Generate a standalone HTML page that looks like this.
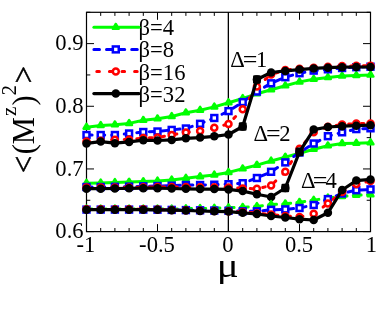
<!DOCTYPE html>
<html><head><meta charset="utf-8"><title>chart</title>
<style>
html,body{margin:0;padding:0;background:#fff;}
body{width:382px;height:319px;overflow:hidden;}
svg{display:block;will-change:transform;}
text{font-family:"Liberation Serif",serif;fill:#000;}
</style></head><body>
<svg width="382" height="319" viewBox="0 0 382 319">
<rect width="382" height="319" fill="#fff"/>
<defs><clipPath id="cp"><rect x="81.5" y="12.3" width="294.0" height="219.29999999999998"/></clipPath></defs>
<text x="138.6" y="34.5" font-size="22.6">β=4</text>
<text x="138.6" y="57.3" font-size="22.6">β=8</text>
<text x="138.6" y="79.8" font-size="22.6">β=16</text>
<text x="138.6" y="101.9" font-size="22.6">β=32</text>
<rect x="86.5" y="12.3" width="284.0" height="219.29999999999998" fill="none" stroke="#000" stroke-width="1.2"/>
<line x1="228.35" y1="12.3" x2="228.35" y2="231.6" stroke="#000" stroke-width="1.3"/>
<line x1="86.5" y1="231.6" x2="86.5" y2="224.1" stroke="#000" stroke-width="1"/>
<line x1="86.5" y1="12.3" x2="86.5" y2="19.8" stroke="#000" stroke-width="1"/>
<line x1="100.7" y1="231.6" x2="100.7" y2="228.0" stroke="#000" stroke-width="1"/>
<line x1="100.7" y1="12.3" x2="100.7" y2="15.9" stroke="#000" stroke-width="1"/>
<line x1="114.9" y1="231.6" x2="114.9" y2="228.0" stroke="#000" stroke-width="1"/>
<line x1="114.9" y1="12.3" x2="114.9" y2="15.9" stroke="#000" stroke-width="1"/>
<line x1="129.1" y1="231.6" x2="129.1" y2="228.0" stroke="#000" stroke-width="1"/>
<line x1="129.1" y1="12.3" x2="129.1" y2="15.9" stroke="#000" stroke-width="1"/>
<line x1="143.3" y1="231.6" x2="143.3" y2="228.0" stroke="#000" stroke-width="1"/>
<line x1="143.3" y1="12.3" x2="143.3" y2="15.9" stroke="#000" stroke-width="1"/>
<line x1="157.5" y1="231.6" x2="157.5" y2="224.1" stroke="#000" stroke-width="1"/>
<line x1="157.5" y1="12.3" x2="157.5" y2="19.8" stroke="#000" stroke-width="1"/>
<line x1="171.7" y1="231.6" x2="171.7" y2="228.0" stroke="#000" stroke-width="1"/>
<line x1="171.7" y1="12.3" x2="171.7" y2="15.9" stroke="#000" stroke-width="1"/>
<line x1="185.89999999999998" y1="231.6" x2="185.89999999999998" y2="228.0" stroke="#000" stroke-width="1"/>
<line x1="185.89999999999998" y1="12.3" x2="185.89999999999998" y2="15.9" stroke="#000" stroke-width="1"/>
<line x1="200.1" y1="231.6" x2="200.1" y2="228.0" stroke="#000" stroke-width="1"/>
<line x1="200.1" y1="12.3" x2="200.1" y2="15.9" stroke="#000" stroke-width="1"/>
<line x1="214.3" y1="231.6" x2="214.3" y2="228.0" stroke="#000" stroke-width="1"/>
<line x1="214.3" y1="12.3" x2="214.3" y2="15.9" stroke="#000" stroke-width="1"/>
<line x1="228.5" y1="231.6" x2="228.5" y2="224.1" stroke="#000" stroke-width="1"/>
<line x1="228.5" y1="12.3" x2="228.5" y2="19.8" stroke="#000" stroke-width="1"/>
<line x1="242.7" y1="231.6" x2="242.7" y2="228.0" stroke="#000" stroke-width="1"/>
<line x1="242.7" y1="12.3" x2="242.7" y2="15.9" stroke="#000" stroke-width="1"/>
<line x1="256.9" y1="231.6" x2="256.9" y2="228.0" stroke="#000" stroke-width="1"/>
<line x1="256.9" y1="12.3" x2="256.9" y2="15.9" stroke="#000" stroke-width="1"/>
<line x1="271.1" y1="231.6" x2="271.1" y2="228.0" stroke="#000" stroke-width="1"/>
<line x1="271.1" y1="12.3" x2="271.1" y2="15.9" stroke="#000" stroke-width="1"/>
<line x1="285.29999999999995" y1="231.6" x2="285.29999999999995" y2="228.0" stroke="#000" stroke-width="1"/>
<line x1="285.29999999999995" y1="12.3" x2="285.29999999999995" y2="15.9" stroke="#000" stroke-width="1"/>
<line x1="299.5" y1="231.6" x2="299.5" y2="224.1" stroke="#000" stroke-width="1"/>
<line x1="299.5" y1="12.3" x2="299.5" y2="19.8" stroke="#000" stroke-width="1"/>
<line x1="313.7" y1="231.6" x2="313.7" y2="228.0" stroke="#000" stroke-width="1"/>
<line x1="313.7" y1="12.3" x2="313.7" y2="15.9" stroke="#000" stroke-width="1"/>
<line x1="327.9" y1="231.6" x2="327.9" y2="228.0" stroke="#000" stroke-width="1"/>
<line x1="327.9" y1="12.3" x2="327.9" y2="15.9" stroke="#000" stroke-width="1"/>
<line x1="342.1" y1="231.6" x2="342.1" y2="228.0" stroke="#000" stroke-width="1"/>
<line x1="342.1" y1="12.3" x2="342.1" y2="15.9" stroke="#000" stroke-width="1"/>
<line x1="356.3" y1="231.6" x2="356.3" y2="228.0" stroke="#000" stroke-width="1"/>
<line x1="356.3" y1="12.3" x2="356.3" y2="15.9" stroke="#000" stroke-width="1"/>
<line x1="370.5" y1="231.6" x2="370.5" y2="224.1" stroke="#000" stroke-width="1"/>
<line x1="370.5" y1="12.3" x2="370.5" y2="19.8" stroke="#000" stroke-width="1"/>
<line x1="86.5" y1="231.60" x2="94.0" y2="231.60" stroke="#000" stroke-width="1"/>
<line x1="370.5" y1="231.60" x2="363.0" y2="231.60" stroke="#000" stroke-width="1"/>
<line x1="86.5" y1="200.27" x2="90.3" y2="200.27" stroke="#000" stroke-width="1"/>
<line x1="370.5" y1="200.27" x2="366.7" y2="200.27" stroke="#000" stroke-width="1"/>
<line x1="86.5" y1="168.94" x2="94.0" y2="168.94" stroke="#000" stroke-width="1"/>
<line x1="370.5" y1="168.94" x2="363.0" y2="168.94" stroke="#000" stroke-width="1"/>
<line x1="86.5" y1="137.61" x2="90.3" y2="137.61" stroke="#000" stroke-width="1"/>
<line x1="370.5" y1="137.61" x2="366.7" y2="137.61" stroke="#000" stroke-width="1"/>
<line x1="86.5" y1="106.28" x2="94.0" y2="106.28" stroke="#000" stroke-width="1"/>
<line x1="370.5" y1="106.28" x2="363.0" y2="106.28" stroke="#000" stroke-width="1"/>
<line x1="86.5" y1="74.95" x2="90.3" y2="74.95" stroke="#000" stroke-width="1"/>
<line x1="370.5" y1="74.95" x2="366.7" y2="74.95" stroke="#000" stroke-width="1"/>
<line x1="86.5" y1="43.62" x2="94.0" y2="43.62" stroke="#000" stroke-width="1"/>
<line x1="370.5" y1="43.62" x2="363.0" y2="43.62" stroke="#000" stroke-width="1"/>
<line x1="86.5" y1="12.29" x2="90.3" y2="12.29" stroke="#000" stroke-width="1"/>
<line x1="370.5" y1="12.29" x2="366.7" y2="12.29" stroke="#000" stroke-width="1"/>
<g><polyline points="86.50,127.20 100.70,125.50 114.90,124.80 129.10,123.40 143.30,120.30 157.50,118.80 171.70,116.50 185.90,112.80 200.10,110.20 214.30,106.90 228.50,102.70 242.70,98.50 256.90,93.80 271.10,89.70 285.30,85.80 299.50,81.90 313.70,79.20 327.90,77.40 342.10,76.00 356.30,75.40 370.50,75.00" fill="none" stroke="#00ff00" stroke-width="3.0" stroke-linecap="round" stroke-linejoin="round"/>
<path d="M83.60,128.75 L89.40,128.75 L86.50,123.85 Z" fill="#00ff00" stroke="#00ff00" stroke-width="2.5" stroke-linejoin="round"/>
<path d="M97.80,127.05 L103.60,127.05 L100.70,122.15 Z" fill="#00ff00" stroke="#00ff00" stroke-width="2.5" stroke-linejoin="round"/>
<path d="M112.00,126.35 L117.80,126.35 L114.90,121.45 Z" fill="#00ff00" stroke="#00ff00" stroke-width="2.5" stroke-linejoin="round"/>
<path d="M126.20,124.95 L132.00,124.95 L129.10,120.05 Z" fill="#00ff00" stroke="#00ff00" stroke-width="2.5" stroke-linejoin="round"/>
<path d="M140.40,121.85 L146.20,121.85 L143.30,116.95 Z" fill="#00ff00" stroke="#00ff00" stroke-width="2.5" stroke-linejoin="round"/>
<path d="M154.60,120.35 L160.40,120.35 L157.50,115.45 Z" fill="#00ff00" stroke="#00ff00" stroke-width="2.5" stroke-linejoin="round"/>
<path d="M168.80,118.05 L174.60,118.05 L171.70,113.15 Z" fill="#00ff00" stroke="#00ff00" stroke-width="2.5" stroke-linejoin="round"/>
<path d="M183.00,114.35 L188.80,114.35 L185.90,109.45 Z" fill="#00ff00" stroke="#00ff00" stroke-width="2.5" stroke-linejoin="round"/>
<path d="M197.20,111.75 L203.00,111.75 L200.10,106.85 Z" fill="#00ff00" stroke="#00ff00" stroke-width="2.5" stroke-linejoin="round"/>
<path d="M211.40,108.45 L217.20,108.45 L214.30,103.55 Z" fill="#00ff00" stroke="#00ff00" stroke-width="2.5" stroke-linejoin="round"/>
<path d="M225.60,104.25 L231.40,104.25 L228.50,99.35 Z" fill="#00ff00" stroke="#00ff00" stroke-width="2.5" stroke-linejoin="round"/>
<path d="M239.80,100.05 L245.60,100.05 L242.70,95.15 Z" fill="#00ff00" stroke="#00ff00" stroke-width="2.5" stroke-linejoin="round"/>
<path d="M254.00,95.35 L259.80,95.35 L256.90,90.45 Z" fill="#00ff00" stroke="#00ff00" stroke-width="2.5" stroke-linejoin="round"/>
<path d="M268.20,91.25 L274.00,91.25 L271.10,86.35 Z" fill="#00ff00" stroke="#00ff00" stroke-width="2.5" stroke-linejoin="round"/>
<path d="M282.40,87.35 L288.20,87.35 L285.30,82.45 Z" fill="#00ff00" stroke="#00ff00" stroke-width="2.5" stroke-linejoin="round"/>
<path d="M296.60,83.45 L302.40,83.45 L299.50,78.55 Z" fill="#00ff00" stroke="#00ff00" stroke-width="2.5" stroke-linejoin="round"/>
<path d="M310.80,80.75 L316.60,80.75 L313.70,75.85 Z" fill="#00ff00" stroke="#00ff00" stroke-width="2.5" stroke-linejoin="round"/>
<path d="M325.00,78.95 L330.80,78.95 L327.90,74.05 Z" fill="#00ff00" stroke="#00ff00" stroke-width="2.5" stroke-linejoin="round"/>
<path d="M339.20,77.55 L345.00,77.55 L342.10,72.65 Z" fill="#00ff00" stroke="#00ff00" stroke-width="2.5" stroke-linejoin="round"/>
<path d="M353.40,76.95 L359.20,76.95 L356.30,72.05 Z" fill="#00ff00" stroke="#00ff00" stroke-width="2.5" stroke-linejoin="round"/>
<path d="M367.60,76.55 L373.40,76.55 L370.50,71.65 Z" fill="#00ff00" stroke="#00ff00" stroke-width="2.5" stroke-linejoin="round"/>
<polyline points="86.50,135.00 100.70,135.00 114.90,135.00 129.10,133.50 143.30,132.00 157.50,131.50 171.70,129.90 185.90,128.50 200.10,123.80 214.30,118.00 228.50,111.10 242.70,102.10 256.90,91.50 271.10,83.30 285.30,77.20 299.50,73.20 313.70,70.60 327.90,69.30 342.10,68.00 356.30,67.20 370.50,66.70" fill="none" stroke="#0000ff" stroke-width="3.0" stroke-linecap="round" stroke-linejoin="round" stroke-dasharray="5.6 7.0"/>
<rect x="83.55" y="132.05" width="5.9" height="5.9" fill="#fff" stroke="#0000ff" stroke-width="2.5"/>
<rect x="97.75" y="132.05" width="5.9" height="5.9" fill="#fff" stroke="#0000ff" stroke-width="2.5"/>
<rect x="111.95" y="132.05" width="5.9" height="5.9" fill="#fff" stroke="#0000ff" stroke-width="2.5"/>
<rect x="126.15" y="130.55" width="5.9" height="5.9" fill="#fff" stroke="#0000ff" stroke-width="2.5"/>
<rect x="140.35" y="129.05" width="5.9" height="5.9" fill="#fff" stroke="#0000ff" stroke-width="2.5"/>
<rect x="154.55" y="128.55" width="5.9" height="5.9" fill="#fff" stroke="#0000ff" stroke-width="2.5"/>
<rect x="168.75" y="126.95" width="5.9" height="5.9" fill="#fff" stroke="#0000ff" stroke-width="2.5"/>
<rect x="182.95" y="125.55" width="5.9" height="5.9" fill="#fff" stroke="#0000ff" stroke-width="2.5"/>
<rect x="197.15" y="120.85" width="5.9" height="5.9" fill="#fff" stroke="#0000ff" stroke-width="2.5"/>
<rect x="211.35" y="115.05" width="5.9" height="5.9" fill="#fff" stroke="#0000ff" stroke-width="2.5"/>
<rect x="225.55" y="108.15" width="5.9" height="5.9" fill="#fff" stroke="#0000ff" stroke-width="2.5"/>
<rect x="239.75" y="99.15" width="5.9" height="5.9" fill="#fff" stroke="#0000ff" stroke-width="2.5"/>
<rect x="253.95" y="88.55" width="5.9" height="5.9" fill="#fff" stroke="#0000ff" stroke-width="2.5"/>
<rect x="268.15" y="80.35" width="5.9" height="5.9" fill="#fff" stroke="#0000ff" stroke-width="2.5"/>
<rect x="282.35" y="74.25" width="5.9" height="5.9" fill="#fff" stroke="#0000ff" stroke-width="2.5"/>
<rect x="296.55" y="70.25" width="5.9" height="5.9" fill="#fff" stroke="#0000ff" stroke-width="2.5"/>
<rect x="310.75" y="67.65" width="5.9" height="5.9" fill="#fff" stroke="#0000ff" stroke-width="2.5"/>
<rect x="324.95" y="66.35" width="5.9" height="5.9" fill="#fff" stroke="#0000ff" stroke-width="2.5"/>
<rect x="339.15" y="65.05" width="5.9" height="5.9" fill="#fff" stroke="#0000ff" stroke-width="2.5"/>
<rect x="353.35" y="64.25" width="5.9" height="5.9" fill="#fff" stroke="#0000ff" stroke-width="2.5"/>
<rect x="367.55" y="63.75" width="5.9" height="5.9" fill="#fff" stroke="#0000ff" stroke-width="2.5"/>
<polyline points="86.50,141.50 100.70,140.80 114.90,139.70 129.10,139.50 143.30,138.00 157.50,137.50 171.70,135.00 185.90,132.40 200.10,130.90 214.30,127.80 228.50,123.90 242.70,109.20 256.90,86.50 271.10,74.50 285.30,70.00 299.50,68.70 313.70,67.80 327.90,66.70 342.10,66.00 356.30,65.80 370.50,65.80" fill="none" stroke="#ff0000" stroke-width="3.0" stroke-linecap="round" stroke-linejoin="round" stroke-dasharray="2.6 10.0"/>
<circle cx="86.50" cy="141.50" r="3.0" fill="#fff" stroke="#ff0000" stroke-width="2.5"/>
<circle cx="100.70" cy="140.80" r="3.0" fill="#fff" stroke="#ff0000" stroke-width="2.5"/>
<circle cx="114.90" cy="139.70" r="3.0" fill="#fff" stroke="#ff0000" stroke-width="2.5"/>
<circle cx="129.10" cy="139.50" r="3.0" fill="#fff" stroke="#ff0000" stroke-width="2.5"/>
<circle cx="143.30" cy="138.00" r="3.0" fill="#fff" stroke="#ff0000" stroke-width="2.5"/>
<circle cx="157.50" cy="137.50" r="3.0" fill="#fff" stroke="#ff0000" stroke-width="2.5"/>
<circle cx="171.70" cy="135.00" r="3.0" fill="#fff" stroke="#ff0000" stroke-width="2.5"/>
<circle cx="185.90" cy="132.40" r="3.0" fill="#fff" stroke="#ff0000" stroke-width="2.5"/>
<circle cx="200.10" cy="130.90" r="3.0" fill="#fff" stroke="#ff0000" stroke-width="2.5"/>
<circle cx="214.30" cy="127.80" r="3.0" fill="#fff" stroke="#ff0000" stroke-width="2.5"/>
<circle cx="228.50" cy="123.90" r="3.0" fill="#fff" stroke="#ff0000" stroke-width="2.5"/>
<circle cx="242.70" cy="109.20" r="3.0" fill="#fff" stroke="#ff0000" stroke-width="2.5"/>
<circle cx="256.90" cy="86.50" r="3.0" fill="#fff" stroke="#ff0000" stroke-width="2.5"/>
<circle cx="271.10" cy="74.50" r="3.0" fill="#fff" stroke="#ff0000" stroke-width="2.5"/>
<circle cx="285.30" cy="70.00" r="3.0" fill="#fff" stroke="#ff0000" stroke-width="2.5"/>
<circle cx="299.50" cy="68.70" r="3.0" fill="#fff" stroke="#ff0000" stroke-width="2.5"/>
<circle cx="313.70" cy="67.80" r="3.0" fill="#fff" stroke="#ff0000" stroke-width="2.5"/>
<circle cx="327.90" cy="66.70" r="3.0" fill="#fff" stroke="#ff0000" stroke-width="2.5"/>
<circle cx="342.10" cy="66.00" r="3.0" fill="#fff" stroke="#ff0000" stroke-width="2.5"/>
<circle cx="356.30" cy="65.80" r="3.0" fill="#fff" stroke="#ff0000" stroke-width="2.5"/>
<circle cx="370.50" cy="65.80" r="3.0" fill="#fff" stroke="#ff0000" stroke-width="2.5"/>
<polyline points="86.50,143.40 100.70,141.60 114.90,143.20 129.10,141.90 143.30,140.20 157.50,140.50 171.70,139.90 185.90,138.30 200.10,137.60 214.30,136.30 228.50,134.50 242.70,126.50 256.90,79.50 271.10,72.50 285.30,70.90 299.50,69.60 313.70,68.40 327.90,67.70 342.10,67.20 356.30,67.00 370.50,67.00" fill="none" stroke="#000000" stroke-width="3.2" stroke-linecap="round" stroke-linejoin="round"/>
<circle cx="86.50" cy="143.40" r="4.25" fill="#000000"/>
<circle cx="100.70" cy="141.60" r="4.25" fill="#000000"/>
<circle cx="114.90" cy="143.20" r="4.25" fill="#000000"/>
<circle cx="129.10" cy="141.90" r="4.25" fill="#000000"/>
<circle cx="143.30" cy="140.20" r="4.25" fill="#000000"/>
<circle cx="157.50" cy="140.50" r="4.25" fill="#000000"/>
<circle cx="171.70" cy="139.90" r="4.25" fill="#000000"/>
<circle cx="185.90" cy="138.30" r="4.25" fill="#000000"/>
<circle cx="200.10" cy="137.60" r="4.25" fill="#000000"/>
<circle cx="214.30" cy="136.30" r="4.25" fill="#000000"/>
<circle cx="228.50" cy="134.50" r="4.25" fill="#000000"/>
<circle cx="242.70" cy="126.50" r="4.25" fill="#000000"/>
<circle cx="256.90" cy="79.50" r="4.25" fill="#000000"/>
<circle cx="271.10" cy="72.50" r="4.25" fill="#000000"/>
<circle cx="285.30" cy="70.90" r="4.25" fill="#000000"/>
<circle cx="299.50" cy="69.60" r="4.25" fill="#000000"/>
<circle cx="313.70" cy="68.40" r="4.25" fill="#000000"/>
<circle cx="327.90" cy="67.70" r="4.25" fill="#000000"/>
<circle cx="342.10" cy="67.20" r="4.25" fill="#000000"/>
<circle cx="356.30" cy="67.00" r="4.25" fill="#000000"/>
<circle cx="370.50" cy="67.00" r="4.25" fill="#000000"/>
<polyline points="86.50,183.20 100.70,182.90 114.90,182.50 129.10,182.10 143.30,181.60 157.50,181.00 171.70,179.90 185.90,178.20 200.10,176.60 214.30,175.00 228.50,172.40 242.70,168.80 256.90,165.10 271.10,161.00 285.30,157.10 299.50,153.20 313.70,149.30 327.90,145.80 342.10,143.50 356.30,143.20 370.50,142.70" fill="none" stroke="#00ff00" stroke-width="3.0" stroke-linecap="round" stroke-linejoin="round"/>
<path d="M83.60,184.75 L89.40,184.75 L86.50,179.85 Z" fill="#00ff00" stroke="#00ff00" stroke-width="2.5" stroke-linejoin="round"/>
<path d="M97.80,184.45 L103.60,184.45 L100.70,179.55 Z" fill="#00ff00" stroke="#00ff00" stroke-width="2.5" stroke-linejoin="round"/>
<path d="M112.00,184.05 L117.80,184.05 L114.90,179.15 Z" fill="#00ff00" stroke="#00ff00" stroke-width="2.5" stroke-linejoin="round"/>
<path d="M126.20,183.65 L132.00,183.65 L129.10,178.75 Z" fill="#00ff00" stroke="#00ff00" stroke-width="2.5" stroke-linejoin="round"/>
<path d="M140.40,183.15 L146.20,183.15 L143.30,178.25 Z" fill="#00ff00" stroke="#00ff00" stroke-width="2.5" stroke-linejoin="round"/>
<path d="M154.60,182.55 L160.40,182.55 L157.50,177.65 Z" fill="#00ff00" stroke="#00ff00" stroke-width="2.5" stroke-linejoin="round"/>
<path d="M168.80,181.45 L174.60,181.45 L171.70,176.55 Z" fill="#00ff00" stroke="#00ff00" stroke-width="2.5" stroke-linejoin="round"/>
<path d="M183.00,179.75 L188.80,179.75 L185.90,174.85 Z" fill="#00ff00" stroke="#00ff00" stroke-width="2.5" stroke-linejoin="round"/>
<path d="M197.20,178.15 L203.00,178.15 L200.10,173.25 Z" fill="#00ff00" stroke="#00ff00" stroke-width="2.5" stroke-linejoin="round"/>
<path d="M211.40,176.55 L217.20,176.55 L214.30,171.65 Z" fill="#00ff00" stroke="#00ff00" stroke-width="2.5" stroke-linejoin="round"/>
<path d="M225.60,173.95 L231.40,173.95 L228.50,169.05 Z" fill="#00ff00" stroke="#00ff00" stroke-width="2.5" stroke-linejoin="round"/>
<path d="M239.80,170.35 L245.60,170.35 L242.70,165.45 Z" fill="#00ff00" stroke="#00ff00" stroke-width="2.5" stroke-linejoin="round"/>
<path d="M254.00,166.65 L259.80,166.65 L256.90,161.75 Z" fill="#00ff00" stroke="#00ff00" stroke-width="2.5" stroke-linejoin="round"/>
<path d="M268.20,162.55 L274.00,162.55 L271.10,157.65 Z" fill="#00ff00" stroke="#00ff00" stroke-width="2.5" stroke-linejoin="round"/>
<path d="M282.40,158.65 L288.20,158.65 L285.30,153.75 Z" fill="#00ff00" stroke="#00ff00" stroke-width="2.5" stroke-linejoin="round"/>
<path d="M296.60,154.75 L302.40,154.75 L299.50,149.85 Z" fill="#00ff00" stroke="#00ff00" stroke-width="2.5" stroke-linejoin="round"/>
<path d="M310.80,150.85 L316.60,150.85 L313.70,145.95 Z" fill="#00ff00" stroke="#00ff00" stroke-width="2.5" stroke-linejoin="round"/>
<path d="M325.00,147.35 L330.80,147.35 L327.90,142.45 Z" fill="#00ff00" stroke="#00ff00" stroke-width="2.5" stroke-linejoin="round"/>
<path d="M339.20,145.05 L345.00,145.05 L342.10,140.15 Z" fill="#00ff00" stroke="#00ff00" stroke-width="2.5" stroke-linejoin="round"/>
<path d="M353.40,144.75 L359.20,144.75 L356.30,139.85 Z" fill="#00ff00" stroke="#00ff00" stroke-width="2.5" stroke-linejoin="round"/>
<path d="M367.60,144.25 L373.40,144.25 L370.50,139.35 Z" fill="#00ff00" stroke="#00ff00" stroke-width="2.5" stroke-linejoin="round"/>
<polyline points="86.50,187.00 100.70,187.00 114.90,186.80 129.10,186.60 143.30,186.30 157.50,186.00 171.70,185.70 185.90,185.00 200.10,185.00 214.30,184.70 228.50,184.20 242.70,183.20 256.90,178.00 271.10,171.80 285.30,162.40 299.50,152.50 313.70,143.50 327.90,136.20 342.10,132.30 356.30,129.10 370.50,128.30" fill="none" stroke="#0000ff" stroke-width="3.0" stroke-linecap="round" stroke-linejoin="round" stroke-dasharray="5.6 7.0"/>
<rect x="83.55" y="184.05" width="5.9" height="5.9" fill="#fff" stroke="#0000ff" stroke-width="2.5"/>
<rect x="97.75" y="184.05" width="5.9" height="5.9" fill="#fff" stroke="#0000ff" stroke-width="2.5"/>
<rect x="111.95" y="183.85" width="5.9" height="5.9" fill="#fff" stroke="#0000ff" stroke-width="2.5"/>
<rect x="126.15" y="183.65" width="5.9" height="5.9" fill="#fff" stroke="#0000ff" stroke-width="2.5"/>
<rect x="140.35" y="183.35" width="5.9" height="5.9" fill="#fff" stroke="#0000ff" stroke-width="2.5"/>
<rect x="154.55" y="183.05" width="5.9" height="5.9" fill="#fff" stroke="#0000ff" stroke-width="2.5"/>
<rect x="168.75" y="182.75" width="5.9" height="5.9" fill="#fff" stroke="#0000ff" stroke-width="2.5"/>
<rect x="182.95" y="182.05" width="5.9" height="5.9" fill="#fff" stroke="#0000ff" stroke-width="2.5"/>
<rect x="197.15" y="182.05" width="5.9" height="5.9" fill="#fff" stroke="#0000ff" stroke-width="2.5"/>
<rect x="211.35" y="181.75" width="5.9" height="5.9" fill="#fff" stroke="#0000ff" stroke-width="2.5"/>
<rect x="225.55" y="181.25" width="5.9" height="5.9" fill="#fff" stroke="#0000ff" stroke-width="2.5"/>
<rect x="239.75" y="180.25" width="5.9" height="5.9" fill="#fff" stroke="#0000ff" stroke-width="2.5"/>
<rect x="253.95" y="175.05" width="5.9" height="5.9" fill="#fff" stroke="#0000ff" stroke-width="2.5"/>
<rect x="268.15" y="168.85" width="5.9" height="5.9" fill="#fff" stroke="#0000ff" stroke-width="2.5"/>
<rect x="282.35" y="159.45" width="5.9" height="5.9" fill="#fff" stroke="#0000ff" stroke-width="2.5"/>
<rect x="296.55" y="149.55" width="5.9" height="5.9" fill="#fff" stroke="#0000ff" stroke-width="2.5"/>
<rect x="310.75" y="140.55" width="5.9" height="5.9" fill="#fff" stroke="#0000ff" stroke-width="2.5"/>
<rect x="324.95" y="133.25" width="5.9" height="5.9" fill="#fff" stroke="#0000ff" stroke-width="2.5"/>
<rect x="339.15" y="129.35" width="5.9" height="5.9" fill="#fff" stroke="#0000ff" stroke-width="2.5"/>
<rect x="353.35" y="126.15" width="5.9" height="5.9" fill="#fff" stroke="#0000ff" stroke-width="2.5"/>
<rect x="367.55" y="125.35" width="5.9" height="5.9" fill="#fff" stroke="#0000ff" stroke-width="2.5"/>
<polyline points="86.50,187.60 100.70,187.60 114.90,187.60 129.10,187.40 143.30,187.20 157.50,187.00 171.70,187.00 185.90,187.00 200.10,187.20 214.30,187.20 228.50,187.40 242.70,188.40 256.90,188.80 271.10,185.50 285.30,171.80 299.50,148.70 313.70,132.30 327.90,126.80 342.10,124.40 356.30,123.60 370.50,123.60" fill="none" stroke="#ff0000" stroke-width="3.0" stroke-linecap="round" stroke-linejoin="round" stroke-dasharray="2.6 10.0"/>
<circle cx="86.50" cy="187.60" r="3.0" fill="#fff" stroke="#ff0000" stroke-width="2.5"/>
<circle cx="100.70" cy="187.60" r="3.0" fill="#fff" stroke="#ff0000" stroke-width="2.5"/>
<circle cx="114.90" cy="187.60" r="3.0" fill="#fff" stroke="#ff0000" stroke-width="2.5"/>
<circle cx="129.10" cy="187.40" r="3.0" fill="#fff" stroke="#ff0000" stroke-width="2.5"/>
<circle cx="143.30" cy="187.20" r="3.0" fill="#fff" stroke="#ff0000" stroke-width="2.5"/>
<circle cx="157.50" cy="187.00" r="3.0" fill="#fff" stroke="#ff0000" stroke-width="2.5"/>
<circle cx="171.70" cy="187.00" r="3.0" fill="#fff" stroke="#ff0000" stroke-width="2.5"/>
<circle cx="185.90" cy="187.00" r="3.0" fill="#fff" stroke="#ff0000" stroke-width="2.5"/>
<circle cx="200.10" cy="187.20" r="3.0" fill="#fff" stroke="#ff0000" stroke-width="2.5"/>
<circle cx="214.30" cy="187.20" r="3.0" fill="#fff" stroke="#ff0000" stroke-width="2.5"/>
<circle cx="228.50" cy="187.40" r="3.0" fill="#fff" stroke="#ff0000" stroke-width="2.5"/>
<circle cx="242.70" cy="188.40" r="3.0" fill="#fff" stroke="#ff0000" stroke-width="2.5"/>
<circle cx="256.90" cy="188.80" r="3.0" fill="#fff" stroke="#ff0000" stroke-width="2.5"/>
<circle cx="271.10" cy="185.50" r="3.0" fill="#fff" stroke="#ff0000" stroke-width="2.5"/>
<circle cx="285.30" cy="171.80" r="3.0" fill="#fff" stroke="#ff0000" stroke-width="2.5"/>
<circle cx="299.50" cy="148.70" r="3.0" fill="#fff" stroke="#ff0000" stroke-width="2.5"/>
<circle cx="313.70" cy="132.30" r="3.0" fill="#fff" stroke="#ff0000" stroke-width="2.5"/>
<circle cx="327.90" cy="126.80" r="3.0" fill="#fff" stroke="#ff0000" stroke-width="2.5"/>
<circle cx="342.10" cy="124.40" r="3.0" fill="#fff" stroke="#ff0000" stroke-width="2.5"/>
<circle cx="356.30" cy="123.60" r="3.0" fill="#fff" stroke="#ff0000" stroke-width="2.5"/>
<circle cx="370.50" cy="123.60" r="3.0" fill="#fff" stroke="#ff0000" stroke-width="2.5"/>
<polyline points="86.50,188.70 100.70,188.70 114.90,188.50 129.10,188.30 143.30,188.20 157.50,188.20 171.70,188.50 185.90,188.80 200.10,189.10 214.30,189.10 228.50,189.40 242.70,191.10 256.90,194.30 271.10,197.00 285.30,188.00 299.50,151.90 313.70,129.60 327.90,127.00 342.10,126.20 356.30,125.70 370.50,125.20" fill="none" stroke="#000000" stroke-width="3.2" stroke-linecap="round" stroke-linejoin="round"/>
<circle cx="86.50" cy="188.70" r="4.25" fill="#000000"/>
<circle cx="100.70" cy="188.70" r="4.25" fill="#000000"/>
<circle cx="114.90" cy="188.50" r="4.25" fill="#000000"/>
<circle cx="129.10" cy="188.30" r="4.25" fill="#000000"/>
<circle cx="143.30" cy="188.20" r="4.25" fill="#000000"/>
<circle cx="157.50" cy="188.20" r="4.25" fill="#000000"/>
<circle cx="171.70" cy="188.50" r="4.25" fill="#000000"/>
<circle cx="185.90" cy="188.80" r="4.25" fill="#000000"/>
<circle cx="200.10" cy="189.10" r="4.25" fill="#000000"/>
<circle cx="214.30" cy="189.10" r="4.25" fill="#000000"/>
<circle cx="228.50" cy="189.40" r="4.25" fill="#000000"/>
<circle cx="242.70" cy="191.10" r="4.25" fill="#000000"/>
<circle cx="256.90" cy="194.30" r="4.25" fill="#000000"/>
<circle cx="271.10" cy="197.00" r="4.25" fill="#000000"/>
<circle cx="285.30" cy="188.00" r="4.25" fill="#000000"/>
<circle cx="299.50" cy="151.90" r="4.25" fill="#000000"/>
<circle cx="313.70" cy="129.60" r="4.25" fill="#000000"/>
<circle cx="327.90" cy="127.00" r="4.25" fill="#000000"/>
<circle cx="342.10" cy="126.20" r="4.25" fill="#000000"/>
<circle cx="356.30" cy="125.70" r="4.25" fill="#000000"/>
<circle cx="370.50" cy="125.20" r="4.25" fill="#000000"/>
<polyline points="86.50,209.00 100.70,209.00 114.90,209.00 129.10,209.00 143.30,209.00 157.50,209.00 171.70,209.00 185.90,208.70 200.10,208.50 214.30,208.20 228.50,207.70 242.70,207.30 256.90,206.40 271.10,204.50 285.30,203.80 299.50,202.30 313.70,200.20 327.90,197.90 342.10,196.40 356.30,195.30 370.50,194.60" fill="none" stroke="#00ff00" stroke-width="3.0" stroke-linecap="round" stroke-linejoin="round" stroke-dasharray="7.9 6.3" stroke-dashoffset="2.3"/>
<path d="M83.60,210.55 L89.40,210.55 L86.50,205.65 Z" fill="#00ff00" stroke="#00ff00" stroke-width="2.5" stroke-linejoin="round"/>
<path d="M97.80,210.55 L103.60,210.55 L100.70,205.65 Z" fill="#00ff00" stroke="#00ff00" stroke-width="2.5" stroke-linejoin="round"/>
<path d="M112.00,210.55 L117.80,210.55 L114.90,205.65 Z" fill="#00ff00" stroke="#00ff00" stroke-width="2.5" stroke-linejoin="round"/>
<path d="M126.20,210.55 L132.00,210.55 L129.10,205.65 Z" fill="#00ff00" stroke="#00ff00" stroke-width="2.5" stroke-linejoin="round"/>
<path d="M140.40,210.55 L146.20,210.55 L143.30,205.65 Z" fill="#00ff00" stroke="#00ff00" stroke-width="2.5" stroke-linejoin="round"/>
<path d="M154.60,210.55 L160.40,210.55 L157.50,205.65 Z" fill="#00ff00" stroke="#00ff00" stroke-width="2.5" stroke-linejoin="round"/>
<path d="M168.80,210.55 L174.60,210.55 L171.70,205.65 Z" fill="#00ff00" stroke="#00ff00" stroke-width="2.5" stroke-linejoin="round"/>
<path d="M183.00,210.25 L188.80,210.25 L185.90,205.35 Z" fill="#00ff00" stroke="#00ff00" stroke-width="2.5" stroke-linejoin="round"/>
<path d="M197.20,210.05 L203.00,210.05 L200.10,205.15 Z" fill="#00ff00" stroke="#00ff00" stroke-width="2.5" stroke-linejoin="round"/>
<path d="M211.40,209.75 L217.20,209.75 L214.30,204.85 Z" fill="#00ff00" stroke="#00ff00" stroke-width="2.5" stroke-linejoin="round"/>
<path d="M225.60,209.25 L231.40,209.25 L228.50,204.35 Z" fill="#00ff00" stroke="#00ff00" stroke-width="2.5" stroke-linejoin="round"/>
<path d="M239.80,208.85 L245.60,208.85 L242.70,203.95 Z" fill="#00ff00" stroke="#00ff00" stroke-width="2.5" stroke-linejoin="round"/>
<path d="M254.00,207.95 L259.80,207.95 L256.90,203.05 Z" fill="#00ff00" stroke="#00ff00" stroke-width="2.5" stroke-linejoin="round"/>
<path d="M268.20,206.05 L274.00,206.05 L271.10,201.15 Z" fill="#00ff00" stroke="#00ff00" stroke-width="2.5" stroke-linejoin="round"/>
<path d="M282.40,205.35 L288.20,205.35 L285.30,200.45 Z" fill="#00ff00" stroke="#00ff00" stroke-width="2.5" stroke-linejoin="round"/>
<path d="M296.60,203.85 L302.40,203.85 L299.50,198.95 Z" fill="#00ff00" stroke="#00ff00" stroke-width="2.5" stroke-linejoin="round"/>
<path d="M310.80,201.75 L316.60,201.75 L313.70,196.85 Z" fill="#00ff00" stroke="#00ff00" stroke-width="2.5" stroke-linejoin="round"/>
<path d="M325.00,199.45 L330.80,199.45 L327.90,194.55 Z" fill="#00ff00" stroke="#00ff00" stroke-width="2.5" stroke-linejoin="round"/>
<path d="M339.20,197.95 L345.00,197.95 L342.10,193.05 Z" fill="#00ff00" stroke="#00ff00" stroke-width="2.5" stroke-linejoin="round"/>
<path d="M353.40,196.85 L359.20,196.85 L356.30,191.95 Z" fill="#00ff00" stroke="#00ff00" stroke-width="2.5" stroke-linejoin="round"/>
<path d="M367.60,196.15 L373.40,196.15 L370.50,191.25 Z" fill="#00ff00" stroke="#00ff00" stroke-width="2.5" stroke-linejoin="round"/>
<polyline points="86.50,209.60 100.70,209.60 114.90,209.60 129.10,209.60 143.30,209.60 157.50,209.70 171.70,209.90 185.90,210.10 200.10,210.30 214.30,210.50 228.50,210.80 242.70,211.30 256.90,211.30 271.10,209.80 285.30,209.40 299.50,208.00 313.70,205.00 327.90,199.10 342.10,193.50 356.30,190.20 370.50,189.40" fill="none" stroke="#0000ff" stroke-width="3.0" stroke-linecap="round" stroke-linejoin="round" stroke-dasharray="5.6 7.0"/>
<rect x="83.55" y="206.65" width="5.9" height="5.9" fill="#fff" stroke="#0000ff" stroke-width="2.5"/>
<rect x="97.75" y="206.65" width="5.9" height="5.9" fill="#fff" stroke="#0000ff" stroke-width="2.5"/>
<rect x="111.95" y="206.65" width="5.9" height="5.9" fill="#fff" stroke="#0000ff" stroke-width="2.5"/>
<rect x="126.15" y="206.65" width="5.9" height="5.9" fill="#fff" stroke="#0000ff" stroke-width="2.5"/>
<rect x="140.35" y="206.65" width="5.9" height="5.9" fill="#fff" stroke="#0000ff" stroke-width="2.5"/>
<rect x="154.55" y="206.75" width="5.9" height="5.9" fill="#fff" stroke="#0000ff" stroke-width="2.5"/>
<rect x="168.75" y="206.95" width="5.9" height="5.9" fill="#fff" stroke="#0000ff" stroke-width="2.5"/>
<rect x="182.95" y="207.15" width="5.9" height="5.9" fill="#fff" stroke="#0000ff" stroke-width="2.5"/>
<rect x="197.15" y="207.35" width="5.9" height="5.9" fill="#fff" stroke="#0000ff" stroke-width="2.5"/>
<rect x="211.35" y="207.55" width="5.9" height="5.9" fill="#fff" stroke="#0000ff" stroke-width="2.5"/>
<rect x="225.55" y="207.85" width="5.9" height="5.9" fill="#fff" stroke="#0000ff" stroke-width="2.5"/>
<rect x="239.75" y="208.35" width="5.9" height="5.9" fill="#fff" stroke="#0000ff" stroke-width="2.5"/>
<rect x="253.95" y="208.35" width="5.9" height="5.9" fill="#fff" stroke="#0000ff" stroke-width="2.5"/>
<rect x="268.15" y="206.85" width="5.9" height="5.9" fill="#fff" stroke="#0000ff" stroke-width="2.5"/>
<rect x="282.35" y="206.45" width="5.9" height="5.9" fill="#fff" stroke="#0000ff" stroke-width="2.5"/>
<rect x="296.55" y="205.05" width="5.9" height="5.9" fill="#fff" stroke="#0000ff" stroke-width="2.5"/>
<rect x="310.75" y="202.05" width="5.9" height="5.9" fill="#fff" stroke="#0000ff" stroke-width="2.5"/>
<rect x="324.95" y="196.15" width="5.9" height="5.9" fill="#fff" stroke="#0000ff" stroke-width="2.5"/>
<rect x="339.15" y="190.55" width="5.9" height="5.9" fill="#fff" stroke="#0000ff" stroke-width="2.5"/>
<rect x="353.35" y="187.25" width="5.9" height="5.9" fill="#fff" stroke="#0000ff" stroke-width="2.5"/>
<rect x="367.55" y="186.45" width="5.9" height="5.9" fill="#fff" stroke="#0000ff" stroke-width="2.5"/>
<polyline points="86.50,209.30 100.70,209.30 114.90,209.30 129.10,209.30 143.30,209.30 157.50,209.50 171.70,210.00 185.90,210.30 200.10,210.70 214.30,211.00 228.50,211.20 242.70,211.90 256.90,213.20 271.10,214.40 285.30,216.00 299.50,217.00 313.70,213.80 327.90,203.60 342.10,192.00 356.30,184.00 370.50,181.00" fill="none" stroke="#ff0000" stroke-width="3.0" stroke-linecap="round" stroke-linejoin="round" stroke-dasharray="2.6 10.0"/>
<circle cx="86.50" cy="209.30" r="3.0" fill="#fff" stroke="#ff0000" stroke-width="2.5"/>
<circle cx="100.70" cy="209.30" r="3.0" fill="#fff" stroke="#ff0000" stroke-width="2.5"/>
<circle cx="114.90" cy="209.30" r="3.0" fill="#fff" stroke="#ff0000" stroke-width="2.5"/>
<circle cx="129.10" cy="209.30" r="3.0" fill="#fff" stroke="#ff0000" stroke-width="2.5"/>
<circle cx="143.30" cy="209.30" r="3.0" fill="#fff" stroke="#ff0000" stroke-width="2.5"/>
<circle cx="157.50" cy="209.50" r="3.0" fill="#fff" stroke="#ff0000" stroke-width="2.5"/>
<circle cx="171.70" cy="210.00" r="3.0" fill="#fff" stroke="#ff0000" stroke-width="2.5"/>
<circle cx="185.90" cy="210.30" r="3.0" fill="#fff" stroke="#ff0000" stroke-width="2.5"/>
<circle cx="200.10" cy="210.70" r="3.0" fill="#fff" stroke="#ff0000" stroke-width="2.5"/>
<circle cx="214.30" cy="211.00" r="3.0" fill="#fff" stroke="#ff0000" stroke-width="2.5"/>
<circle cx="228.50" cy="211.20" r="3.0" fill="#fff" stroke="#ff0000" stroke-width="2.5"/>
<circle cx="242.70" cy="211.90" r="3.0" fill="#fff" stroke="#ff0000" stroke-width="2.5"/>
<circle cx="256.90" cy="213.20" r="3.0" fill="#fff" stroke="#ff0000" stroke-width="2.5"/>
<circle cx="271.10" cy="214.40" r="3.0" fill="#fff" stroke="#ff0000" stroke-width="2.5"/>
<circle cx="285.30" cy="216.00" r="3.0" fill="#fff" stroke="#ff0000" stroke-width="2.5"/>
<circle cx="299.50" cy="217.00" r="3.0" fill="#fff" stroke="#ff0000" stroke-width="2.5"/>
<circle cx="313.70" cy="213.80" r="3.0" fill="#fff" stroke="#ff0000" stroke-width="2.5"/>
<circle cx="327.90" cy="203.60" r="3.0" fill="#fff" stroke="#ff0000" stroke-width="2.5"/>
<circle cx="342.10" cy="192.00" r="3.0" fill="#fff" stroke="#ff0000" stroke-width="2.5"/>
<circle cx="356.30" cy="184.00" r="3.0" fill="#fff" stroke="#ff0000" stroke-width="2.5"/>
<circle cx="370.50" cy="181.00" r="3.0" fill="#fff" stroke="#ff0000" stroke-width="2.5"/>
<polyline points="86.50,209.70 100.70,209.70 114.90,209.70 129.10,209.70 143.30,209.70 157.50,209.80 171.70,210.20 185.90,210.50 200.10,211.00 214.30,211.30 228.50,211.60 242.70,212.80 256.90,214.00 271.10,216.00 285.30,217.50 299.50,219.20 313.70,220.00 327.90,212.80 342.10,190.00 356.30,180.60 370.50,179.40" fill="none" stroke="#000000" stroke-width="3.2" stroke-linecap="round" stroke-linejoin="round"/>
<circle cx="86.50" cy="209.70" r="4.25" fill="#000000"/>
<circle cx="100.70" cy="209.70" r="4.25" fill="#000000"/>
<circle cx="114.90" cy="209.70" r="4.25" fill="#000000"/>
<circle cx="129.10" cy="209.70" r="4.25" fill="#000000"/>
<circle cx="143.30" cy="209.70" r="4.25" fill="#000000"/>
<circle cx="157.50" cy="209.80" r="4.25" fill="#000000"/>
<circle cx="171.70" cy="210.20" r="4.25" fill="#000000"/>
<circle cx="185.90" cy="210.50" r="4.25" fill="#000000"/>
<circle cx="200.10" cy="211.00" r="4.25" fill="#000000"/>
<circle cx="214.30" cy="211.30" r="4.25" fill="#000000"/>
<circle cx="228.50" cy="211.60" r="4.25" fill="#000000"/>
<circle cx="242.70" cy="212.80" r="4.25" fill="#000000"/>
<circle cx="256.90" cy="214.00" r="4.25" fill="#000000"/>
<circle cx="271.10" cy="216.00" r="4.25" fill="#000000"/>
<circle cx="285.30" cy="217.50" r="4.25" fill="#000000"/>
<circle cx="299.50" cy="219.20" r="4.25" fill="#000000"/>
<circle cx="313.70" cy="220.00" r="4.25" fill="#000000"/>
<circle cx="327.90" cy="212.80" r="4.25" fill="#000000"/>
<circle cx="342.10" cy="190.00" r="4.25" fill="#000000"/>
<circle cx="356.30" cy="180.60" r="4.25" fill="#000000"/>
<circle cx="370.50" cy="179.40" r="4.25" fill="#000000"/>
<rect x="238.80" y="122.20" width="7.8" height="8.6" rx="1.3" fill="#000"/>
<rect x="253.00" y="75.20" width="7.8" height="8.6" rx="1.3" fill="#000"/>
<rect x="281.40" y="183.70" width="7.8" height="8.6" rx="1.3" fill="#000"/>
<rect x="295.60" y="147.60" width="7.8" height="8.6" rx="1.3" fill="#000"/></g>
<line x1="93.9" y1="27.3" x2="139.0" y2="27.3" stroke="#00ff00" stroke-width="3.0" stroke-linecap="round"/>
<path d="M112.90,28.85 L118.70,28.85 L115.80,23.95 Z" fill="#00ff00" stroke="#00ff00" stroke-width="2.5" stroke-linejoin="round"/>
<line x1="93.9" y1="49.4" x2="139.0" y2="49.4" stroke="#0000ff" stroke-width="3.0" stroke-linecap="round" stroke-dasharray="5.6 7.0"/>
<rect x="112.85" y="46.45" width="5.9" height="5.9" fill="#fff" stroke="#0000ff" stroke-width="2.5"/>
<line x1="93.9" y1="71.6" x2="139.0" y2="71.6" stroke="#ff0000" stroke-width="3.0" stroke-linecap="round" stroke-dasharray="2.6 10.0" stroke-dashoffset="-2.9"/>
<circle cx="115.80" cy="71.60" r="3.0" fill="#fff" stroke="#ff0000" stroke-width="2.5"/>
<line x1="93.9" y1="93.6" x2="139.0" y2="93.6" stroke="#000000" stroke-width="3.2" stroke-linecap="round"/>
<circle cx="115.80" cy="93.60" r="4.25" fill="#000000"/>
<text x="83.6" y="238.20" font-size="22.6" text-anchor="end">0.6</text>
<text x="83.6" y="175.54" font-size="22.6" text-anchor="end">0.7</text>
<text x="83.6" y="112.88" font-size="22.6" text-anchor="end">0.8</text>
<text x="83.6" y="50.22" font-size="22.6" text-anchor="end">0.9</text>
<text x="86.00" y="252" font-size="22.6" text-anchor="middle">-1</text>
<text x="157.00" y="252" font-size="22.6" text-anchor="middle">-0.5</text>
<text x="228.00" y="252" font-size="22.6" text-anchor="middle">0</text>
<text x="299.00" y="252" font-size="22.6" text-anchor="middle">0.5</text>
<text x="371.30" y="252" font-size="22.6" text-anchor="middle">1</text>
<text x="230.3" y="67" font-size="22.6">Δ</text><text transform="translate(242.7,67) scale(1.15,1)" font-size="22.6">=</text><text x="255.9" y="67" font-size="22.6">1</text>
<text x="253.6" y="141" font-size="22.6">Δ</text><text transform="translate(266.1,141) scale(1.15,1)" font-size="22.6">=</text><text x="279.3" y="141" font-size="22.6">2</text>
<text x="301" y="187.7" font-size="22.6">Δ</text><text transform="translate(312.7,187.7) scale(1.15,1)" font-size="22.6">=</text><text x="325.4" y="187.7" font-size="22.6">4</text>
<text transform="translate(227.6,277.4) scale(1.26,1.02)" x="0" y="0" font-size="32.5" text-anchor="middle">μ</text>
<g transform="translate(34,171.5) rotate(-90)" font-size="30.5"><text x="-1.5" y="0" stroke="#000" stroke-width="0.5">&lt;</text><text x="17.2" y="0">(M</text><text x="55.5" y="-17.6" font-size="21">z</text><text x="66" y="0">)</text><text x="76" y="-17.6" font-size="21">2</text><text x="88.3" y="0" stroke="#000" stroke-width="0.5">&gt;</text></g>
</svg>
</body></html>
